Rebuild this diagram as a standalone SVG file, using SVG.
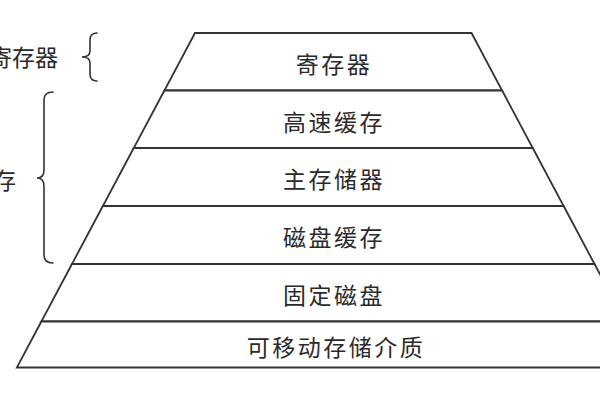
<svg xmlns="http://www.w3.org/2000/svg" width="600" height="400" viewBox="0 0 600 400">
  <style>
    .layer { fill: #ffffff; stroke: #333333; stroke-width: 1.8; stroke-linejoin: miter; }
    .lbl { font-family: "Noto Sans CJK SC", "Noto Sans", sans-serif; font-size: 23px; fill: #2a2a2a; text-anchor: middle; dominant-baseline: central; letter-spacing: 2.5px; }
    .side { font-family: "Noto Sans CJK SC", "Noto Sans", sans-serif; font-size: 23px; fill: #2a2a2a; text-anchor: end; dominant-baseline: central; }
    .brace { fill: none; stroke: #333333; stroke-width: 1.6; stroke-linecap: round; }
  </style>
  <rect x="0" y="0" width="600" height="400" fill="#ffffff"/>
  <g id="layer-register">
    <polygon class="layer" points="195,33 471.5,33 502.1,90.5 164.4,90.5"/>
    <text class="lbl" x="334" y="63">寄存器</text>
  </g>
  <g id="layer-cache">
    <polygon class="layer" points="164.4,90.5 502.1,90.5 532.75,148 133.75,148"/>
    <text class="lbl" x="334" y="120.5">高速缓存</text>
  </g>
  <g id="layer-main-memory">
    <polygon class="layer" points="133.75,148 532.75,148 563.64,206 102.86,206"/>
    <text class="lbl" x="334" y="178">主存储器</text>
  </g>
  <g id="layer-disk-cache">
    <polygon class="layer" points="102.86,206 563.64,206 594.53,264 71.97,264"/>
    <text class="lbl" x="334" y="236">磁盘缓存</text>
  </g>
  <g id="layer-fixed-disk">
    <polygon class="layer" points="71.97,264 594.53,264 625.16,321.5 41.34,321.5"/>
    <text class="lbl" x="334" y="294">固定磁盘</text>
  </g>
  <g id="layer-removable">
    <polygon class="layer" points="41.34,321.5 625.16,321.5 649.65,367.5 16.85,367.5"/>
    <text class="lbl" x="336" y="346">可移动存储介质</text>
  </g>
  <g id="group-register">
    <path class="brace" d="M97,33 Q90,33 90,40 L90,51 Q90,57 82,57 Q90,57 90,63 L90,74 Q90,81 97,81"/>
    <text class="side" x="58" y="56">寄存器</text>
  </g>
  <g id="group-memory">
    <path class="brace" d="M53,92 Q44,92 44,100 L44,170 Q44,178 37,178 Q44,178 44,186 L44,255 Q44,263 53,263"/>
    <text class="side" x="16" y="179">存</text>
  </g>
</svg>
